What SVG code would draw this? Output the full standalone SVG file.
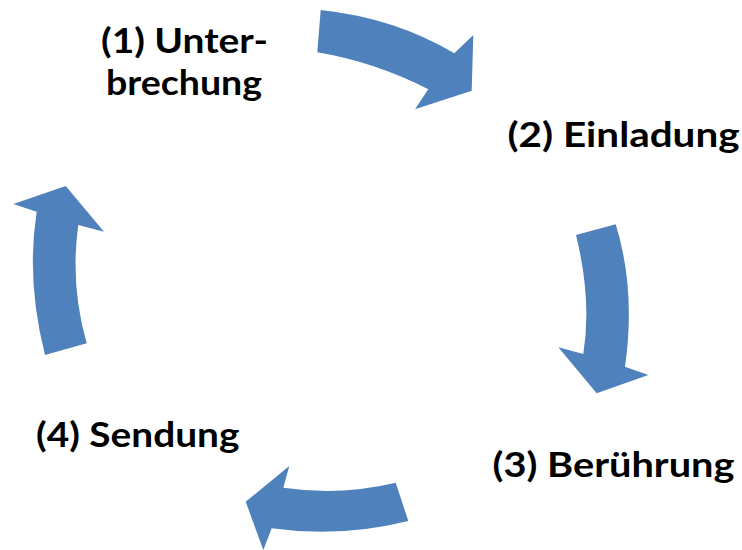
<svg xmlns="http://www.w3.org/2000/svg" width="742" height="550" viewBox="0 0 742 550">
<style>
.arrow{fill:#4F81BD;stroke:none}
.lbl{font-family:Lato,"Open Sans","Liberation Sans",sans-serif;font-weight:bold;font-size:34px;fill:#000}
</style>
<rect width="742" height="550" fill="#fff"/>
<g id="connectors">
<path id="arrow1" class="arrow" d="M320.7,10 Q395,18 454.3,53.3 L473.3,35 L471.7,90.7 L415,109.3 L428.3,89.3 Q375,62 317.3,52.3 Z"/>
<path id="arrow2" class="arrow" d="M576,235 L615.7,224.3 Q636,290 625,366.7 L648.3,375 L596.7,393.3 L558.3,347.3 L583.3,354 Q592,300 576,235 Z"/>
<path id="arrow3" class="arrow" d="M395.7,482.7 L408.3,521 Q340,538 271.7,528.3 L263.3,550 L245.7,501.7 L289.3,466 L283.3,487.7 Q340,496 395.7,482.7 Z"/>
<path id="arrow4" class="arrow" d="M45,355 L86.7,343.3 Q70,285 78.3,225 L104,231.7 L65.7,186 L13.3,204 L36.7,211.7 Q26,280 45,355 Z"/>
</g>
<g id="node1"><text class="lbl" x="101" y="53" textLength="167" lengthAdjust="spacingAndGlyphs">(1) Unter-</text><text class="lbl" x="106" y="95" textLength="156" lengthAdjust="spacingAndGlyphs">brechung</text></g>
<g id="node2"><text class="lbl" x="507.5" y="146.5" textLength="232" lengthAdjust="spacingAndGlyphs">(2) Einladung</text></g>
<g id="node3"><text class="lbl" x="492.5" y="476.5" textLength="242" lengthAdjust="spacingAndGlyphs">(3) Berührung</text></g>
<g id="node4"><text class="lbl" x="36" y="446.5" textLength="203.5" lengthAdjust="spacingAndGlyphs">(4) Sendung</text></g>
</svg>
